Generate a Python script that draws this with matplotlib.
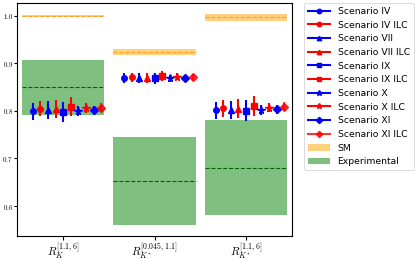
import numpy as np
import matplotlib
matplotlib.use("Agg")
from matplotlib import pyplot as plt
from matplotlib.lines import Line2D
from matplotlib.patches import Patch

plt.rcParams['mathtext.fontset'] = 'cm'

observables = [r"$R_K^{[1.1,6]}$", r"$R_{K^*}^{[0.045,1.1]}$", r"$R_{K^*}^{[1.1,6]}$"]

# SM predictions (central, half width) per observable
sm_val = [1.0, 0.924, 0.9966]
sm_err = [0.0025, 0.0065, 0.0075]

# experimental (central, low, high)
exp_val = [0.85, 0.652, 0.681]
exp_lo = [0.791, 0.56, 0.581]
exp_hi = [0.908, 0.745, 0.781]

scenarios = ["Scenario IV", "Scenario IV ILC", "Scenario VII", "Scenario VII ILC",
             "Scenario IX", "Scenario IX ILC", "Scenario X", "Scenario X ILC",
             "Scenario XI", "Scenario XI ILC"]
markers = ["o", "o", "^", "^", "s", "s", "*", "*", "D", "D"]
colors = ["blue", "red"] * 5

# predictions for each scenario, one value per observable
pred_val = [
    [0.7993, 0.8684, 0.8014],
    [0.8049, 0.8705, 0.8056],
    [0.8014, 0.8684, 0.8014],
    [0.8035, 0.8690, 0.8050],
    [0.7980, 0.8684, 0.8000],
    [0.8090, 0.8730, 0.8105],
    [0.7990, 0.8684, 0.8014],
    [0.8056, 0.8720, 0.8070],
    [0.8014, 0.8700, 0.8035],
    [0.8070, 0.8720, 0.8090],
]
pred_err = [
    [0.0175, 0.0105, 0.0175],
    [0.0160, 0.0100, 0.0175],
    [0.0186, 0.0105, 0.0190],
    [0.0186, 0.0100, 0.0190],
    [0.0210, 0.0110, 0.0220],
    [0.0200, 0.0105, 0.0210],
    [0.0105, 0.0080, 0.0105],
    [0.0100, 0.0080, 0.0095],
    [0.0090, 0.0060, 0.0095],
    [0.0095, 0.0065, 0.0100],
]

yticks = [0.6, 0.7, 0.8, 0.9, 1.0]
yticklabels = ["$0.6$", "$0.7$", "$0.8$", "$0.9$", "$1.0$"]

fig = plt.figure(figsize=(4.15, 2.6), dpi=100)
ax = fig.add_axes([0.042, 0.093, 0.661, 0.894])

x = np.arange(len(observables))
w = 0.9

for i in range(len(observables)):
    ax.fill_between([x[i] - w/2, x[i] + w/2], sm_val[i] - sm_err[i], sm_val[i] + sm_err[i],
                    color="orange", alpha=0.5, lw=0)
    ax.plot([x[i] - w/2, x[i] + w/2], [sm_val[i]] * 2, "--", color="darkorange", lw=0.8, alpha=0.7)
    ax.fill_between([x[i] - w/2, x[i] + w/2], exp_lo[i], exp_hi[i],
                    color="green", alpha=0.5, lw=0)
    ax.plot([x[i] - w/2, x[i] + w/2], [exp_val[i]] * 2, "--", color="darkgreen", lw=0.8)

step = 1 / 12
handles = []
for j, name in enumerate(scenarios):
    ms = 5.5 if markers[j] == "*" else 4
    a = 0.8 if j == 9 else 1
    ax.errorbar(x + (j - 4) * step, pred_val[j], yerr=pred_err[j],
                fmt=markers[j], color=colors[j], ms=ms, elinewidth=1.5,
                capsize=0, alpha=a)
    handles.append(Line2D([], [], color=colors[j], marker=markers[j], ms=ms * 0.8,
                          lw=1.5, alpha=a, label=name))
handles.append(Patch(color="orange", alpha=0.5, lw=0, label="SM"))
handles.append(Patch(color="green", alpha=0.5, lw=0, label="Experimental"))

ax.set_xlim(-0.5, 2.5)
ax.set_ylim(0.5375, 1.026)
ax.set_xticks(x)
ax.set_xticklabels(observables, fontsize=8)
ax.set_yticks(yticks)
ax.set_yticklabels(yticklabels, fontsize=5)
ax.tick_params(axis="x", length=3, pad=1)
ax.tick_params(axis="y", length=2, pad=1)

leg = ax.legend(handles=handles, loc="upper left", bbox_to_anchor=(1.045, 1.0),
                fontsize=6.7, borderaxespad=0, handlelength=2.4, labelspacing=0.5)
leg.get_frame().set_linewidth(0.6)

fig.savefig("out.png", dpi=100)
